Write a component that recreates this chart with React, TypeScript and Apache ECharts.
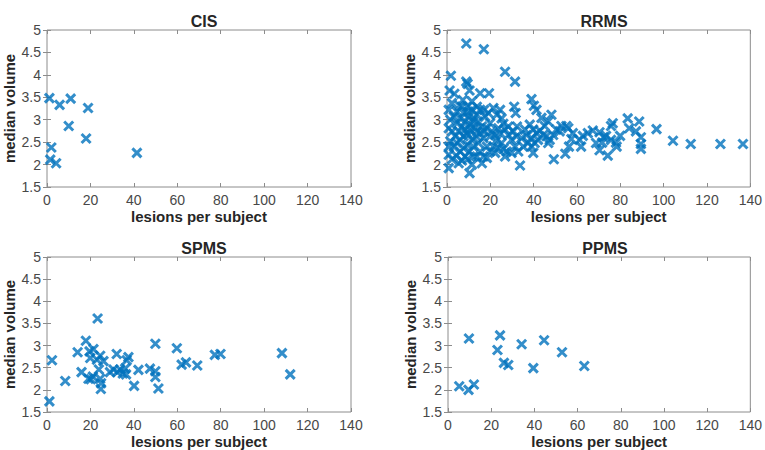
import React, { useEffect, useRef } from "react";
import * as echarts from "echarts";

// [lesions per subject, median volume]
const cisPoints: number[][] = [
  [1.1, 3.48], [5.8, 3.33], [10.9, 3.47], [18.9, 3.26], [10.0, 2.86],
  [18.0, 2.58], [2.0, 2.38], [1.5, 2.11], [4.2, 2.03], [41.4, 2.26],
];

const rrmsPoints: number[][] = [
  [8.9, 4.70], [17.0, 4.57], [26.8, 4.07], [31.4, 3.85], [1.8, 3.98],
  [8.9, 3.85], [9.5, 3.80], [1.2, 3.65], [3.4, 3.58], [10.4, 3.65],
  [15.3, 3.59], [19.4, 3.59], [39.0, 3.46], [40.1, 3.31], [41.3, 3.22],
  [31.0, 3.29], [31.7, 3.15], [5.8, 3.31], [0.8, 3.22], [0.8, 1.92],
  [10.4, 1.81], [33.7, 1.98], [49.3, 2.12], [54.6, 2.24], [74.2, 2.20],
  [70.4, 2.32], [96.7, 2.79], [104.3, 2.53], [112.5, 2.46], [126.2, 2.46],
  [136.6, 2.46], [83.4, 3.03], [88.7, 2.96], [89.5, 2.61], [89.5, 2.46],
  [89.5, 2.35], [87.2, 2.74], [84.1, 2.81], [79.9, 2.64], [75.7, 2.86],
  [76.5, 2.92], [78.0, 2.49], [78.3, 2.40], [75.7, 2.55], [73.4, 2.64],
  [70.4, 2.72], [67.3, 2.76], [65.0, 2.70], [62.7, 2.64], [61.2, 2.55],
  [61.9, 2.40], [58.1, 2.70], [57.4, 2.57], [56.3, 2.40], [55.1, 2.86],
  [52.8, 2.86], [50.5, 2.78], [52.0, 2.74], [56.0, 2.81], [71.6, 2.49],
  [72.2, 2.61], [68.8, 2.48], [32.3, 2.85], [36.0, 2.78], [38.2, 2.89],
  [39.8, 2.78], [41.3, 2.70], [42.8, 2.76], [44.4, 2.66], [45.9, 2.63],
  [47.4, 2.55], [48.2, 3.11], [46.7, 2.96], [43.6, 3.04], [45.1, 2.86],
  [49.0, 2.66], [46.7, 2.48], [42.0, 2.55], [39.0, 2.40], [37.5, 2.49],
  [35.2, 2.40], [32.9, 2.29], [31.4, 2.40], [29.8, 2.55], [28.3, 2.66],
  [26.8, 2.78], [28.3, 2.85], [30.6, 2.74], [32.1, 2.63], [34.4, 2.59],
  [36.7, 2.66], [39.0, 2.59], [40.5, 2.48], [24.5, 3.22], [23.0, 3.11],
  [21.4, 3.26], [25.2, 3.03], [26.0, 2.91], [23.7, 2.81], [24.5, 2.70],
  [23.0, 2.55], [21.4, 2.40], [23.7, 2.37], [25.2, 2.48], [26.8, 2.18],
  [27.5, 2.29], [26.0, 2.35], [29.8, 2.26], [22.2, 2.26], [19.9, 2.29],
  [18.4, 2.40], [19.9, 2.63], [18.4, 2.81], [19.9, 2.92], [17.6, 3.07],
  [19.1, 3.15], [15.3, 3.22], [13.8, 3.29], [11.5, 3.22], [9.5, 3.29],
  [7.6, 3.15], [6.1, 3.03], [4.6, 2.92], [3.1, 3.07], [1.5, 3.00],
  [0.8, 2.81], [2.3, 2.74], [3.8, 2.63], [5.4, 2.74], [6.9, 2.85],
  [8.4, 2.96], [9.9, 3.07], [12.2, 3.03], [14.5, 2.96], [16.1, 2.85],
  [13.0, 2.81], [10.7, 2.78], [9.2, 2.70], [7.6, 2.63], [6.1, 2.55],
  [4.6, 2.48], [3.1, 2.40], [1.5, 2.52], [0.8, 2.40], [0.8, 2.22],
  [2.3, 2.12], [4.3, 2.20], [6.1, 2.29], [7.6, 2.37], [9.5, 2.44],
  [11.5, 2.55], [13.5, 2.63], [15.3, 2.70], [16.8, 2.59], [14.5, 2.48],
  [12.2, 2.40], [10.4, 2.29], [8.4, 2.18], [6.9, 2.09], [5.4, 2.03],
  [9.5, 2.12], [11.5, 2.00], [13.8, 2.18], [15.3, 2.29], [16.8, 2.18],
  [16.1, 2.03], [18.4, 2.15], [12.2, 2.18], [9.9, 2.66], [8.4, 2.78],
  [10.7, 2.89], [12.2, 2.96], [13.8, 3.11], [9.9, 3.18], [6.9, 3.29],
  [4.6, 3.18], [2.3, 3.37], [7.3, 3.44], [11.5, 3.41], [17.1, 3.22],
  [20.7, 2.74], [22.2, 2.66], [16.8, 2.74], [13.8, 2.74], [39.8, 2.26],
];

const spmsPoints: number[][] = [
  [1.1, 1.74], [2.3, 2.67], [8.4, 2.20], [14.1, 2.85], [15.9, 2.40],
  [17.9, 3.11], [19.6, 2.87], [19.9, 2.72], [21.4, 2.92], [19.1, 2.25],
  [21.1, 2.30], [20.2, 2.24], [23.3, 3.61], [23.0, 2.68], [24.5, 2.77],
  [23.9, 2.46], [24.9, 2.15], [24.8, 2.02], [26.0, 2.65], [24.5, 2.25],
  [30.6, 2.46], [32.1, 2.81], [32.4, 2.40], [33.7, 2.46], [34.9, 2.37],
  [36.0, 2.48], [36.7, 2.67], [37.5, 2.74], [36.4, 2.35], [40.1, 2.09],
  [42.1, 2.45], [47.4, 2.48], [49.9, 3.04], [49.9, 2.42], [49.9, 2.29],
  [51.3, 2.03], [59.8, 2.94], [62.0, 2.57], [64.0, 2.62], [69.2, 2.55],
  [77.3, 2.79], [79.9, 2.81], [108.2, 2.83], [112.0, 2.35], [29.0, 2.40],
];

const ppmsPoints: number[][] = [
  [5.2, 2.08], [9.5, 2.00], [12.0, 2.12], [9.7, 3.16], [22.9, 2.90],
  [24.1, 3.23], [25.9, 2.61], [27.9, 2.56], [34.1, 3.03], [39.5, 2.49],
  [44.5, 3.12], [52.8, 2.85], [63.1, 2.54],
];

const panelTitles = ["CIS", "RRMS", "SPMS", "PPMS"];
const xTicks = { min: 0, max: 140, interval: 20 };
const yTicks = { min: 1.5, max: 5, interval: 0.5 };
const xLabel = "lesions per subject";
const yLabel = "median volume";

const panels = [
  { data: cisPoints, left: 47, top: 30 },
  { data: rrmsPoints, left: 447, top: 30 },
  { data: spmsPoints, left: 47, top: 257 },
  { data: ppmsPoints, left: 448, top: 257 },
];
const gridW = 304;
const gridH = 157;

const FONT = "'Liberation Sans', Arial, Helvetica, sans-serif";
const BOX = "#8c8c8c";
const TICK_TEXT = "#484848";
const LABEL_TEXT = "#262626";
const MARK = "#0072BD";

const X_MARK = "path://M0,0L10,10M10,0L0,10";

export default function App() {
  const ref = useRef<HTMLDivElement>(null);

  useEffect(() => {
    if (!ref.current) return;
    const chart = echarts.init(ref.current, undefined, { renderer: "svg" });

    const grids: any[] = [];
    const xAxes: any[] = [];
    const yAxes: any[] = [];
    const series: any[] = [];
    const titles: any[] = [];

    panels.forEach((p, i) => {
      grids.push({
        left: p.left,
        top: p.top,
        width: gridW,
        height: gridH,
        show: true,
        borderColor: BOX,
        borderWidth: 1,
        backgroundColor: "#ffffff",
      });
      const tick = { show: true, inside: true, length: 4, lineStyle: { color: BOX, width: 1 } };
      // bottom axis with labels
      xAxes.push({
        type: "value",
        gridIndex: i,
        position: "bottom",
        ...xTicks,
        axisLine: { show: false },
        axisTick: tick,
        splitLine: { show: false },
        axisLabel: { color: TICK_TEXT, fontSize: 14, fontFamily: FONT, margin: 6 },
        name: xLabel,
        nameLocation: "middle",
        nameGap: 22,
        nameTextStyle: { color: LABEL_TEXT, fontSize: 15, fontWeight: "bold", fontFamily: FONT },
      });
      // top axis, ticks only
      xAxes.push({
        type: "value",
        gridIndex: i,
        position: "top",
        ...xTicks,
        axisLine: { show: false },
        axisTick: tick,
        splitLine: { show: false },
        axisLabel: { show: false },
      });
      yAxes.push({
        type: "value",
        gridIndex: i,
        position: "left",
        ...yTicks,
        axisLine: { show: false },
        axisTick: tick,
        splitLine: { show: false },
        axisLabel: { color: TICK_TEXT, fontSize: 14, fontFamily: FONT, margin: 6 },
        name: yLabel,
        nameLocation: "middle",
        nameGap: 30,
        nameTextStyle: { color: LABEL_TEXT, fontSize: 15, fontWeight: "bold", fontFamily: FONT },
      });
      yAxes.push({
        type: "value",
        gridIndex: i,
        position: "right",
        ...yTicks,
        axisLine: { show: false },
        axisTick: tick,
        splitLine: { show: false },
        axisLabel: { show: false },
      });
      series.push({
        type: "scatter",
        xAxisIndex: i * 2,
        yAxisIndex: i * 2,
        data: p.data,
        symbol: X_MARK,
        symbolSize: 9,
        itemStyle: { color: "transparent", borderColor: MARK, borderWidth: 3 },
        emphasis: { disabled: true },
      });
      titles.push({
        text: panelTitles[i],
        left: p.left + gridW / 2,
        top: p.top - 22,
        textAlign: "center",
        textStyle: { color: LABEL_TEXT, fontSize: 16, fontWeight: "bold", fontFamily: FONT },
      });
    });

    chart.setOption({
      animation: false,
      backgroundColor: "#ffffff",
      title: titles,
      grid: grids,
      xAxis: xAxes,
      yAxis: yAxes,
      series,
    });

    return () => chart.dispose();
  }, []);

  return (
    <div
      ref={ref}
      style={{ position: "fixed", left: 0, top: 0, width: 765, height: 450, background: "#fff" }}
    />
  );
}
